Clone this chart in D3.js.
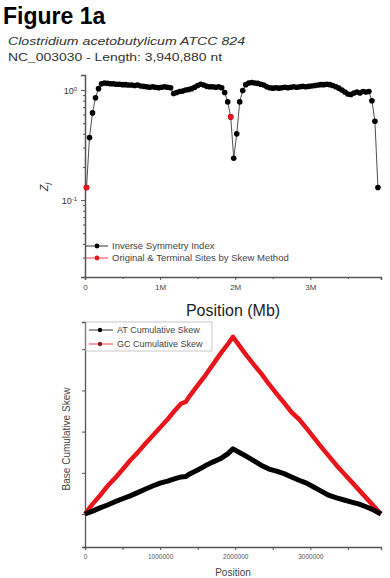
<!DOCTYPE html>
<html>
<head>
<meta charset="utf-8">
<script src="https://cdn.jsdelivr.net/npm/d3@7"></script>
<style>
  body { margin: 0; background: #fff; }
  svg { display: block; font-family: "Liberation Sans", Arial, sans-serif; }
</style>
</head>
<body>
<svg id="fig" width="390" height="578"></svg>
<script>
// Inverse symmetry index (top panel), positions in Mb
const isiPos = [0.02, 0.06, 0.10, 0.14, 0.18, 0.22, 0.26, 0.30, 0.34, 0.38, 0.42, 0.46, 0.50, 0.54, 0.58, 0.62,
  0.66, 0.70, 0.74, 0.78, 0.82, 0.86, 0.90, 0.94, 0.98, 1.02, 1.06, 1.10, 1.14, 1.18, 1.22, 1.26, 1.30, 1.34,
  1.38, 1.42, 1.46, 1.50, 1.54, 1.58, 1.62, 1.66, 1.70, 1.74, 1.78, 1.82, 1.86, 1.90, 1.94, 1.98, 2.02, 2.06,
  2.10, 2.14, 2.18, 2.22, 2.26, 2.30, 2.34, 2.38, 2.42, 2.46, 2.50, 2.54, 2.58, 2.62, 2.66, 2.70, 2.74, 2.78,
  2.82, 2.86, 2.90, 2.94, 2.98, 3.02, 3.06, 3.10, 3.14, 3.18, 3.22, 3.26, 3.30, 3.34, 3.38, 3.42, 3.46, 3.50,
  3.54, 3.58, 3.62, 3.66, 3.70, 3.74, 3.78, 3.82, 3.86, 3.90];
const isiVal = [0.13, 0.37, 0.62, 0.85, 1.03, 1.14, 1.16, 1.15, 1.14, 1.14, 1.13, 1.13, 1.12, 1.12, 1.11, 1.11,
  1.10, 1.11, 1.09, 1.08, 1.07, 1.06, 1.07, 1.06, 1.05, 1.06, 1.07, 1.06, 1.05, 0.93, 0.95, 0.97, 0.98, 1.00,
  1.01, 1.03, 1.06, 1.10, 1.13, 1.11, 1.08, 1.07, 1.07, 1.06, 1.07, 1.05, 0.95, 0.78, 0.57, 0.24, 0.40, 0.78,
  0.99, 1.12, 1.16, 1.17, 1.16, 1.15, 1.13, 1.11, 1.07, 1.05, 1.04, 1.05, 1.04, 1.05, 1.06, 1.05, 1.06, 1.07,
  1.06, 1.07, 1.08, 1.07, 1.08, 1.09, 1.10, 1.11, 1.12, 1.12, 1.13, 1.12, 1.10, 1.07, 1.04, 1.00, 0.96, 0.92,
  0.91, 0.94, 0.96, 0.94, 0.97, 0.96, 0.97, 0.80, 0.52, 0.13];

// origin / terminus sites by skew method
const skewSitePos = [0.02, 1.94];
const skewSiteVal = [0.13, 0.57];

// cumulative skews (bottom panel), positions in Mb, arbitrary units
const cumPos = [0.00, 0.10, 0.20, 0.30, 0.40, 0.50, 0.60, 0.70, 0.80, 0.90, 1.00, 1.10, 1.20, 1.28, 1.34, 1.40,
  1.50, 1.60, 1.70, 1.80, 1.90, 1.97, 2.05, 2.15, 2.25, 2.35, 2.45, 2.55, 2.65, 2.75, 2.85, 2.95, 3.05, 3.15,
  3.25, 3.35, 3.45, 3.55, 3.65, 3.75, 3.85, 3.94];
const gcSkew = [0.00, 0.24, 0.45, 0.68, 0.87, 1.08, 1.30, 1.49, 1.70, 1.90, 2.10, 2.30, 2.52, 2.68, 2.72, 2.88,
  3.12, 3.36, 3.62, 3.88, 4.12, 4.30, 4.10, 3.85, 3.62, 3.40, 3.15, 2.92, 2.70, 2.47, 2.30, 2.08, 1.85, 1.62,
  1.40, 1.18, 0.98, 0.78, 0.58, 0.38, 0.18, 0.00];
const atSkew = [0.00, 0.07, 0.15, 0.22, 0.30, 0.37, 0.44, 0.52, 0.60, 0.68, 0.75, 0.80, 0.86, 0.90, 0.91, 0.98,
  1.07, 1.17, 1.26, 1.34, 1.46, 1.58, 1.50, 1.40, 1.29, 1.18, 1.09, 1.04, 0.98, 0.90, 0.82, 0.75, 0.65, 0.55,
  0.45, 0.39, 0.34, 0.29, 0.24, 0.17, 0.09, 0.00];

const xMajor = [0, 1, 2, 3];
const xMinor = [0.5, 1.5, 2.5, 3.5];
const genomeMb = 3.94088;

const RED = "#e8151b";
const svg = d3.select("#fig");

// header text
svg.append("text").attr("x", 3).attr("y", 24).attr("font-size", 23).attr("font-weight", "bold")
  .text("Figure 1a");
svg.append("text").attr("x", 8).attr("y", 45).attr("font-size", 10).attr("font-style", "italic")
  .attr("fill", "#333").attr("textLength", 237).attr("lengthAdjust", "spacingAndGlyphs")
  .text("Clostridium acetobutylicum ATCC 824");
svg.append("text").attr("x", 8).attr("y", 61).attr("font-size", 10).attr("fill", "#333")
  .attr("textLength", 214).attr("lengthAdjust", "spacingAndGlyphs")
  .text("NC_003030 - Length: 3,940,880 nt");

// ---------- top panel ----------
const x = d3.scaleLinear().domain([0, genomeMb]).range([85, 381]);
const y = d3.scaleLog().domain([0.02, 1.37]).range([277, 75]);

const topG = svg.append("g");

const yAx = topG.append("g").attr("transform", "translate(85,0)")
  .call(d3.axisLeft(y).tickValues([0.1, 1]).tickSize(4).tickFormat(""));
yAx.selectAll(".tick").append("text")
  .attr("x", -8).attr("dy", "0.35em").attr("text-anchor", "end").attr("fill", "#333").attr("font-size", 9)
  .each(function(d) {
    const t = d3.select(this);
    t.append("tspan").text("10");
    t.append("tspan").attr("dy", "-0.45em").attr("font-size", 6).text(Math.round(Math.log10(d)));
  });
topG.append("g").attr("transform", "translate(85,0)")
  .call(d3.axisLeft(y).tickValues(y.ticks().filter(d => Math.abs(Math.log10(d) % 1) > 1e-6)).tickSize(2).tickFormat(""))
  .call(g => g.select(".domain").remove());

const xAx = topG.append("g").attr("transform", "translate(0,277)")
  .call(d3.axisBottom(x).tickValues(xMajor).tickSize(3).tickFormat(d => d === 0 ? "0" : d + "M"));
xAx.selectAll("text").attr("font-size", 8).attr("fill", "#444").attr("dy", "0.9em");
topG.append("g").attr("transform", "translate(0,277)")
  .call(d3.axisBottom(x).tickValues(xMinor).tickSize(2).tickFormat(""))
  .call(g => g.select(".domain").remove());

topG.selectAll(".domain").attr("stroke", "#555").attr("stroke-width", 1.5);
topG.selectAll(".tick line").attr("stroke", "#555");

const isi = isiPos.map((p, i) => [p, isiVal[i]]);
topG.append("path").datum(isi)
  .attr("fill", "none").attr("stroke", "#222").attr("stroke-width", 0.8)
  .attr("d", d3.line().x(d => x(d[0])).y(d => y(d[1])));
topG.selectAll("circle.isi").data(isi).join("circle").attr("class", "isi")
  .attr("cx", d => x(d[0])).attr("cy", d => y(d[1])).attr("r", 2.8).attr("fill", "#000");
topG.selectAll("circle.site").data(skewSitePos.map((p, i) => [p, skewSiteVal[i]])).join("circle")
  .attr("class", "site")
  .attr("cx", d => x(d[0])).attr("cy", d => y(d[1])).attr("r", 2.8).attr("fill", RED);

topG.append("text").attr("transform", "translate(48,187) rotate(-90)").attr("text-anchor", "middle")
  .attr("font-size", 11).attr("font-style", "italic").attr("fill", "#333")
  .text("Z").append("tspan").attr("font-size", 8).attr("dy", "0.25em").text("j");

// legend
const topLegend = [
  { label: "Inverse Symmetry Index", color: "#000", y: 246 },
  { label: "Original & Terminal Sites by Skew Method", color: RED, y: 258 }
];
const tl = topG.selectAll("g.leg").data(topLegend).join("g").attr("class", "leg");
tl.append("line").attr("x1", 86).attr("x2", 108).attr("y1", d => d.y).attr("y2", d => d.y)
  .attr("stroke", d => d.color).attr("stroke-width", 0.8);
tl.append("circle").attr("cx", 97).attr("cy", d => d.y).attr("r", 2.4).attr("fill", d => d.color);
tl.append("text").attr("x", 112).attr("y", d => d.y).attr("dy", "0.35em").attr("font-size", 9.5)
  .attr("fill", "#444").text(d => d.label);

svg.append("text").attr("x", 233).attr("y", 316).attr("text-anchor", "middle").attr("font-size", 16)
  .attr("fill", "#222").text("Position (Mb)");

// ---------- bottom panel ----------
const y2 = d3.scaleLinear().domain([-0.8, 4.66]).range([547, 322]);
const bot = svg.append("g");

bot.append("g").attr("transform", "translate(85,0)")
  .call(d3.axisLeft(y2).tickValues([0, 1, 2, 3, 4]).tickSize(3).tickFormat(""));
const xAx2 = bot.append("g").attr("transform", "translate(0,547)")
  .call(d3.axisBottom(x).tickValues(xMajor).tickSize(3).tickFormat(d => d3.format("d")(d * 1e6)));
xAx2.selectAll("text").attr("font-size", 6.5).attr("fill", "#555").attr("dy", "0.9em");
bot.append("g").attr("transform", "translate(0,547)")
  .call(d3.axisBottom(x).tickValues(xMinor).tickSize(3).tickFormat(""))
  .call(g => g.select(".domain").remove());
bot.selectAll(".domain").attr("stroke", "#555").attr("stroke-width", 1.3);
bot.selectAll(".tick line").attr("stroke", "#555");

const skewLine = vals => d3.line().curve(d3.curveLinear)
  .x((d, i) => x(cumPos[i])).y(d => y2(d))(vals);
bot.append("path").attr("d", skewLine(gcSkew)).attr("fill", "none").attr("stroke", RED)
  .attr("stroke-width", 4.5).attr("stroke-linejoin", "round");
bot.append("path").attr("d", skewLine(atSkew)).attr("fill", "none").attr("stroke", "#000")
  .attr("stroke-width", 5).attr("stroke-linejoin", "round");

// legend box
bot.append("rect").attr("x", 86).attr("y", 322).attr("width", 126).attr("height", 29)
  .attr("fill", "#fff").attr("stroke", "#bbb").attr("stroke-width", 0.8);
const botLegend = [
  { label: "AT Cumulative Skew", color: "#000", y: 330 },
  { label: "GC Cumulative Skew", color: RED, y: 344 }
];
const bl = bot.selectAll("g.leg2").data(botLegend).join("g").attr("class", "leg2");
bl.append("line").attr("x1", 89).attr("x2", 113).attr("y1", d => d.y).attr("y2", d => d.y)
  .attr("stroke", d => d.color).attr("stroke-width", 0.8);
bl.append("circle").attr("cx", 100).attr("cy", d => d.y).attr("r", 2.2).attr("fill", d => d.color === RED ? "#7a1a2a" : "#000");
bl.append("text").attr("x", 117).attr("y", d => d.y).attr("dy", "0.35em").attr("font-size", 9)
  .attr("fill", "#444").text(d => d.label);

svg.append("text").attr("transform", "translate(70,439) rotate(-90)").attr("text-anchor", "middle")
  .attr("font-size", 10).attr("fill", "#444").text("Base Cumulative Skew");
svg.append("text").attr("x", 233).attr("y", 576).attr("text-anchor", "middle").attr("font-size", 10)
  .attr("fill", "#444").text("Position");
</script>
</body>
</html>
